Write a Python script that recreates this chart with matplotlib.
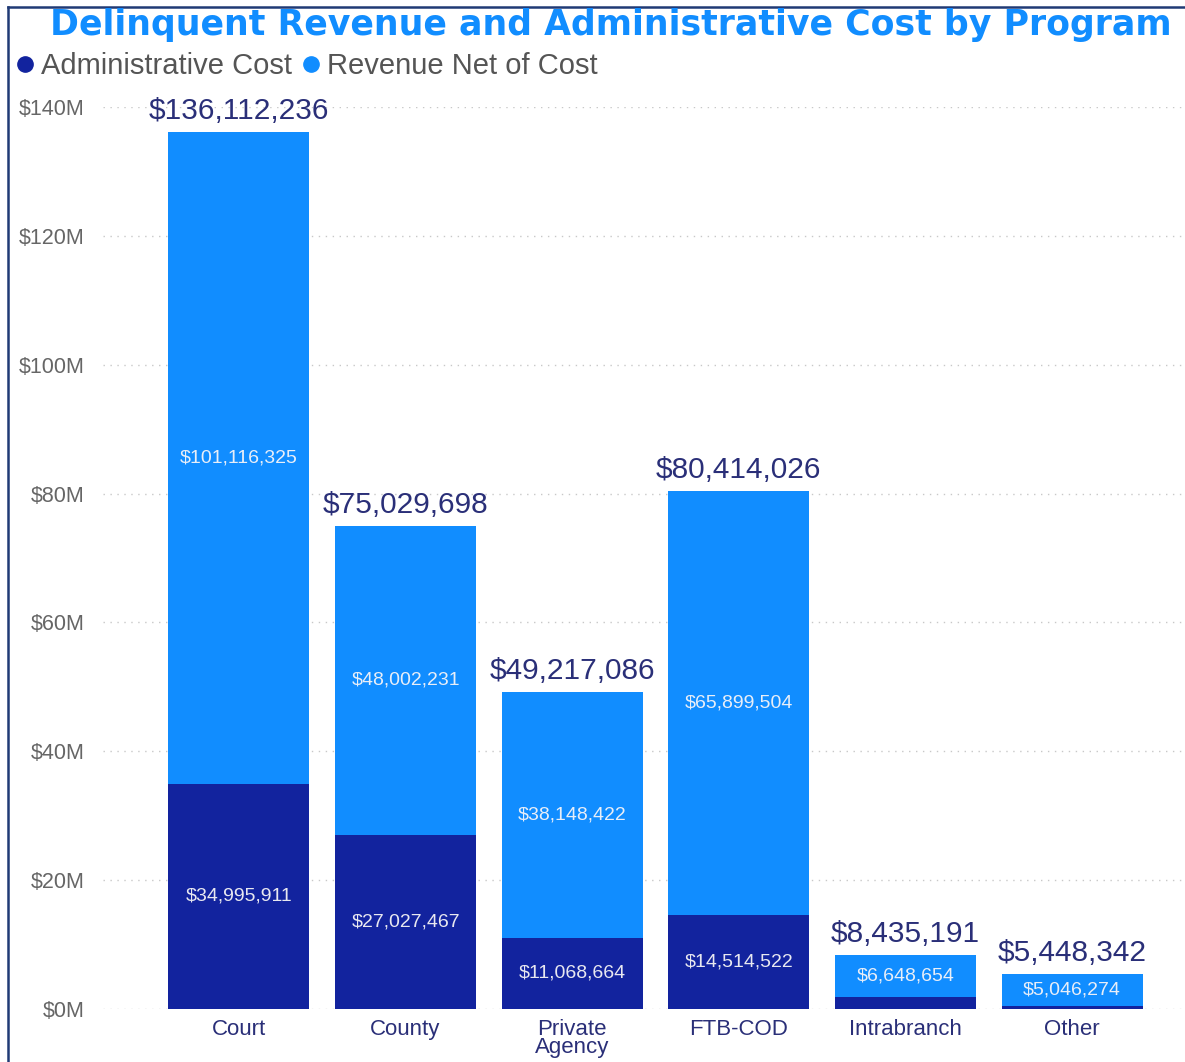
import matplotlib.pyplot as plt
from matplotlib.lines import Line2D
from matplotlib.ticker import FuncFormatter

# programs and amounts (dollars)
programs = ['Court', 'County', 'Private\nAgency', 'FTB-COD', 'Intrabranch', 'Other']
admin_cost = [34995911, 27027467, 11068664, 14514522, 1786537, 402068]
revenue_net = [101116325, 48002231, 38148422, 65899504, 6648654, 5046274]
totals = [136112236, 75029698, 49217086, 80414026, 8435191, 5448342]
show_admin_label = [True, True, True, True, False, False]

DARK = '#12239E'
LIGHT = '#118DFF'
TEXT_DARK = '#2a2f78'
GREY = '#666666'

plt.rcParams['font.family'] = ['Liberation Sans', 'DejaVu Sans']

fig = plt.figure(figsize=(11.85, 10.62), dpi=100)
ax = fig.add_axes([0.0869, 0.0499, 0.9131, 0.8493])

x = list(range(len(programs)))
width = 0.846
ax.bar(x, admin_cost, width, color=DARK, zorder=2)
ax.bar(x, revenue_net, width, bottom=admin_cost, color=LIGHT, zorder=2)

# segment labels
for i in x:
    if show_admin_label[i]:
        ax.text(i, admin_cost[i] / 2, f'${admin_cost[i]:,}', ha='center', va='center',
                color='#e8e8f0', fontsize=14)
    ax.text(i, admin_cost[i] + revenue_net[i] / 2, f'${revenue_net[i]:,}', ha='center',
            va='center', color='#e8eef8', fontsize=14)
    ax.text(i, totals[i] + 1.1e6, f'${totals[i]:,}', ha='center', va='bottom',
            color=TEXT_DARK, fontsize=21.5, clip_on=False)

ax.set_xlim(-0.816, 5.678)
ax.set_ylim(0, 140e6)
ax.set_yticks([i * 20e6 for i in range(8)])
ax.yaxis.set_major_formatter(FuncFormatter(lambda v, p: f'${v / 1e6:.0f}M'))
ax.set_xticks(x)
ax.set_xticklabels(programs, fontsize=16, color=TEXT_DARK, linespacing=0.8)
ax.tick_params(axis='y', labelsize=15.5, labelcolor=GREY, length=0, pad=13)
ax.tick_params(axis='x', length=0, pad=7)
ax.grid(axis='y', color='#c8c8c8', linestyle=(0, (1, 4)), linewidth=1.0, zorder=0)
for s in ax.spines.values():
    s.set_visible(False)

fig.text(0.5155, 0.976, 'Delinquent Revenue and Administrative Cost by Program',
         ha='center', va='center', color=LIGHT, fontsize=25, fontweight='bold',
         family='DejaVu Sans')

handles = [Line2D([], [], marker='o', linestyle='', color=DARK, markersize=11),
           Line2D([], [], marker='o', linestyle='', color=LIGHT, markersize=11)]
fig.legend(handles, ['Administrative Cost', 'Revenue Net of Cost'], loc='center left',
           bbox_to_anchor=(0.014, 0.938), ncol=2, frameon=False, fontsize=21,
           labelcolor='#555555', handletextpad=0.25, columnspacing=0.35,
           handlelength=0.6, borderaxespad=0.0, borderpad=0.0)

# frame border on top and left
fig.add_artist(Line2D([0.007, 0.007], [0.0, 0.9935], transform=fig.transFigure,
                      color='#203a75', linewidth=1.8))
fig.add_artist(Line2D([0.007, 1.0], [0.9935, 0.9935], transform=fig.transFigure,
                      color='#203a75', linewidth=1.8))

plt.savefig('out.png')
